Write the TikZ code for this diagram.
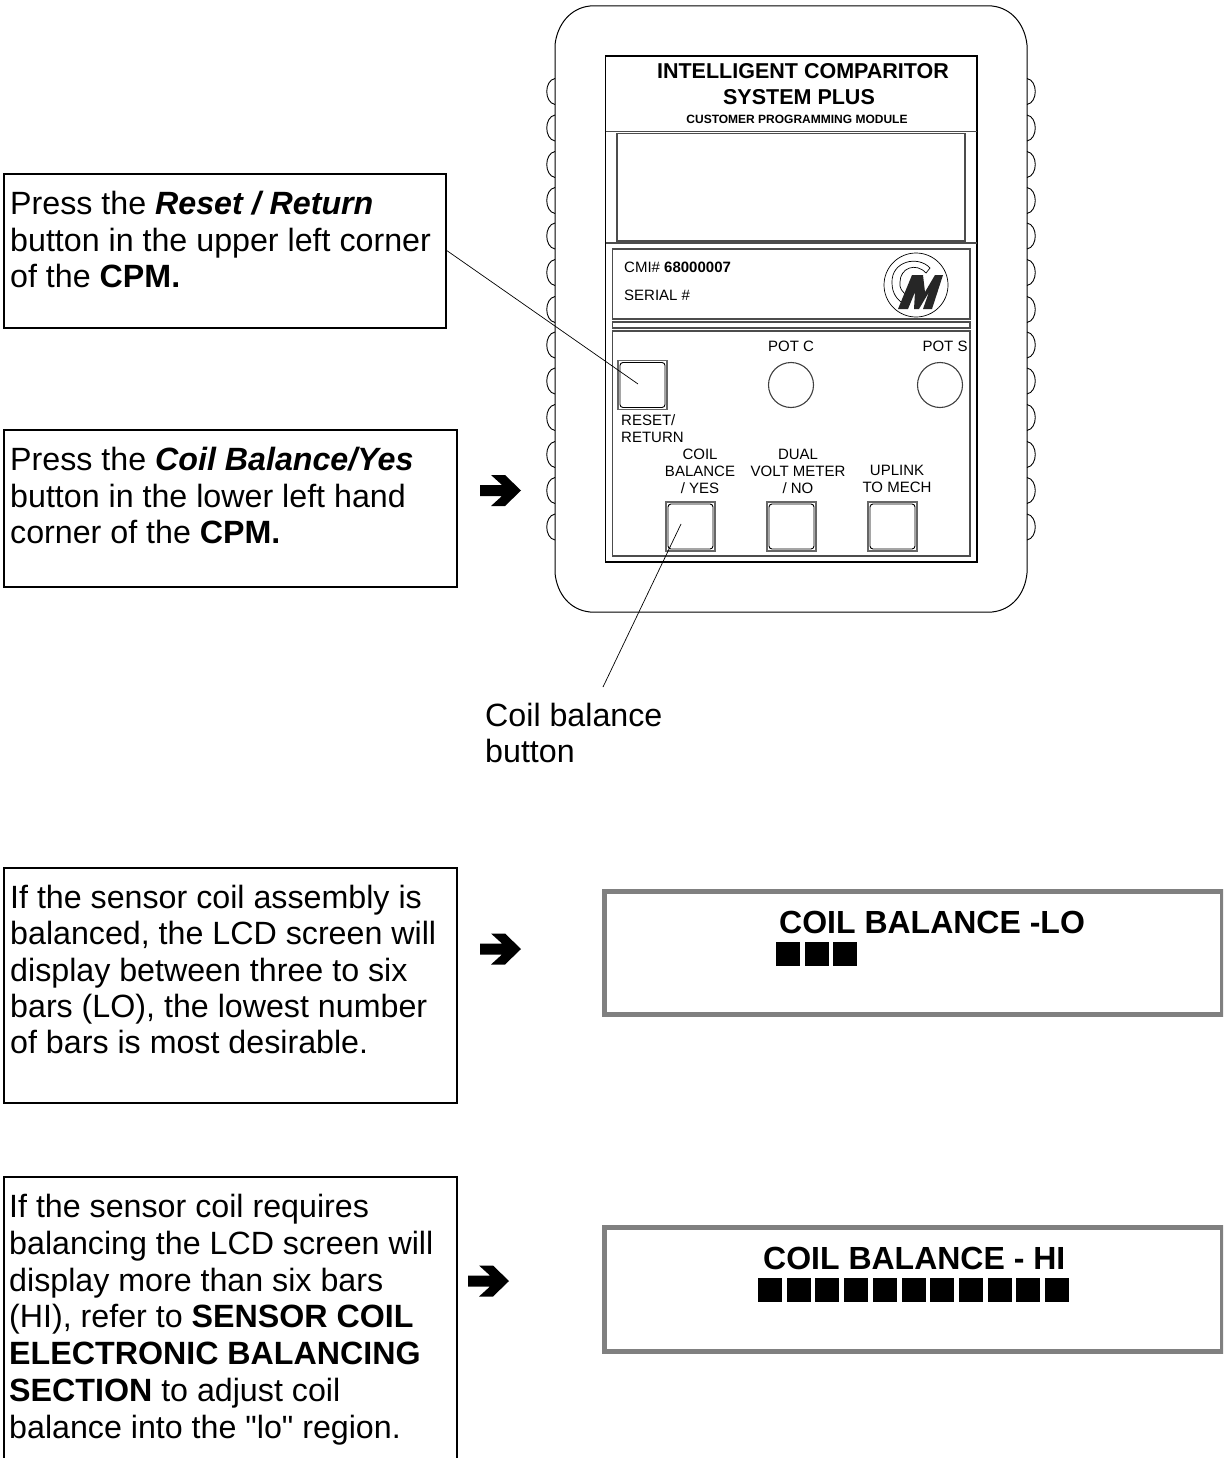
\documentclass[tikz,border=0pt]{standalone}
\usepackage{fontspec}
\setmainfont{Liberation Sans}
\newfontfamily\rawquote{Liberation Sans}
\usetikzlibrary{patterns}
\tikzset{
  x=1pt,y=-1pt,
  para/.style={anchor=north west,inner sep=0pt,align=left,font=\fontsize{32.2}{#1}\selectfont},
  para/.default=36.5,
  calloutline/.style={draw=black,line width=1.4pt},
  frameline/.style={draw=black,line width=1.6pt},
  thinline/.style={draw=black!70,line width=1.1pt},
  leader/.style={draw=black,line width=0.7pt},
  lcdtitle/.style={inner sep=0pt,font=\fontsize{32}{34}\bfseries\selectfont},
  small/.style={inner sep=0pt,align=center,font=\fontsize{15}{17}\selectfont},
  btnbox/.style={draw=black!60,line width=1.1pt,minimum width=49pt,minimum height=49pt,inner sep=0pt},
  lcd/.style={draw=black!50,line width=5.4pt,fill=white},
  barcell/.style={fill=black,draw=none},
  arrowglyph/.style={fill=black,draw=none}
}
\newcommand{\arrowat}[2]{\fill[arrowglyph,shift={(#1,#2)}] (0,-5.5) -- (22,-5.5) -- (11,-15.5) -- (25,-15.5) -- (41,0) -- (25,15.5) -- (11,15.5) -- (22,5.5) -- (0,5.5) -- cycle;}
\newcommand{\btn}[3]{\node[btnbox] (#1) at (#2,#3) {};
  \draw[black,line width=0.9pt,rounded corners=3pt] (#2-22.5,#3-22.5) rectangle (#2+22.5,#3+22.5);}
\begin{document}
\begin{tikzpicture}
\useasboundingbox (0,0) rectangle (1223,1458);
\fill[white] (0,0) rectangle (1223,1458);
% device outline
\draw[black,line width=1pt] (590,6) -- (992,6) .. controls (1012,8) and (1025,25) .. (1027,45) -- (1027,573) .. controls (1025,594) and (1012,610) .. (992,612) -- (590,612) .. controls (570,610) and (557,594) .. (555,573) -- (555,45) .. controls (557,25) and (570,8) .. (590,6) -- cycle;
\foreach \yy in {91.5,128,164.5,200.5,236,272.5,309.5,345,381,417.5,454.5,490.5,527}{
  \draw[black,line width=0.9pt] (555,\yy-13) .. controls (544,\yy-11) and (544,\yy+11) .. (555,\yy+13);
  \draw[black,line width=0.9pt] (1027,\yy-13) .. controls (1038,\yy-11) and (1038,\yy+11) .. (1027,\yy+13);
}
% panel
\draw[frameline] (605.5,56) rectangle (977,562);
\draw[thinline] (605.5,131.5) -- (977,131.5);
\draw[thinline] (605.5,243) -- (977,243);
\draw[thinline] (617,133.5) rectangle (965,241);
\draw[thinline] (612.5,249) rectangle (970,319);
\draw[thinline] (612.5,322) rectangle (970,328);
\draw[thinline] (612.5,331) rectangle (970,556);
% title
\node[inner sep=0pt,font=\fontsize{21.5}{24}\bfseries\selectfont] (title1) at (803,71) {INTELLIGENT COMPARITOR};
\node[inner sep=0pt,font=\fontsize{21.5}{24}\bfseries\selectfont] (title2) at (799,97) {SYSTEM PLUS};
\node[inner sep=0pt,font=\fontsize{12}{13}\bfseries\selectfont] (title3) at (797,119) {CUSTOMER PROGRAMMING MODULE};
\node[small,anchor=west] (cmi) at (624,267.5) {CMI\# \textbf{68000007}};
\node[small,anchor=west] (serial) at (624,295) {SERIAL \#};
% logo
\draw[black,line width=0.7pt] (916,285) circle (32);
\draw[black,line width=0.7pt] (930,268) .. controls (918,255) and (891,261) .. (892,283) .. controls (892,293) and (897,300) .. (904,304) -- (908,296) .. controls (902,292) and (899,288) .. (900,282) .. controls (900,268) and (916,262) .. (926,273) -- cycle;
\fill[black!85] (898,309) -- (912,275) -- (923,275) -- (925,292) -- (935,275) -- (943,275) -- (932,309) -- (923,309) -- (929,292) -- (919,309) -- (914,309) -- (915,292) -- (908,309) -- cycle;
% controls
\node[small] (potc) at (791,346) {POT C};
\node[small] (pots) at (945,346) {POT S};
\node[draw=black!75,line width=1.1pt,circle,minimum size=45pt,inner sep=0pt] (circc) at (791,385) {};
\node[draw=black!75,line width=1.1pt,circle,minimum size=45pt,inner sep=0pt] (circs) at (940,385) {};
\btn{reset}{642.5}{385}
\btn{coilbtn}{690.5}{526.5}
\btn{dualbtn}{791.5}{526.5}
\btn{upbtn}{892.5}{526.5}
\node[small,anchor=north west,align=left] (resetlbl) at (621,414) {RESET/\\RETURN};
\node[small] (coillbl) at (700,471) {COIL\\BALANCE\\/ YES};
\node[small] (duallbl) at (798,471) {DUAL\\VOLT METER\\/ NO};
\node[small] (uplbl) at (897,478.5) {UPLINK\\TO MECH};
% callouts
\draw[calloutline] (4,174) rectangle (446,328);
\draw[calloutline] (4,430) rectangle (457,587);
\draw[calloutline] (4,868) rectangle (457,1103);
\draw[calloutline] (4,1458) -- (4,1177) -- (457,1177) -- (457,1458);
\node[para] (t1) at (10,191) {Press the \textbf{\textit{Reset / Return}}\\button in the upper left corner\\of the \textbf{CPM.}};
\node[para] (t2) at (10,447) {Press the \textbf{\textit{Coil Balance/Yes}}\\button in the lower left hand\\corner of the \textbf{CPM.}};
\node[para=36.3] (t3) at (10,885) {If the sensor coil assembly is\\balanced, the LCD screen will\\display between three to six\\bars (LO), the lowest number\\of bars is most desirable.};
\node[para=36.8] (t4) at (9,1194) {If the sensor coil requires\\balancing the LCD screen will\\display more than six bars\\(HI), refer to \textbf{SENSOR COIL}\\\textbf{ELECTRONIC BALANCING}\\\textbf{SECTION} to adjust coil\\balance into the {\rawquote "lo"} region.};
\node[para=35.5] (t5) at (485,703) {Coil balance\\button};
% leaders
\coordinate (a1) at (446,250);
\coordinate (a2) at (638,384);
\coordinate (b1) at (681,524);
\coordinate (b2) at (603,687);
\draw[leader] (a1) -- (a2);
\draw[leader] (b1) -- (b2);
% arrows
\arrowat{480}{490.5}
\arrowat{480}{949}
\arrowat{468}{1281}
% LCDs
\begin{scope}
\clip (0,0) rectangle (1223,1458);
\draw[lcd] (604.5,891.2) rectangle (1222.7,1014.7);
\draw[lcd] (604.5,1227.5) rectangle (1222.7,1351.5);
\end{scope}
\node[lcdtitle,anchor=west] (lcd1) at (779,922) {COIL BALANCE -LO};
\node[lcdtitle,anchor=west] (lcd2) at (763,1258) {COIL BALANCE - HI};
\foreach \i in {0,1,2}{\fill[barcell] (776+28.7*\i,942) rectangle ++(24,24);}
\foreach \i in {0,...,10}{\fill[barcell] (758+28.7*\i,1278) rectangle ++(24,24);}
\end{tikzpicture}
\end{document}
